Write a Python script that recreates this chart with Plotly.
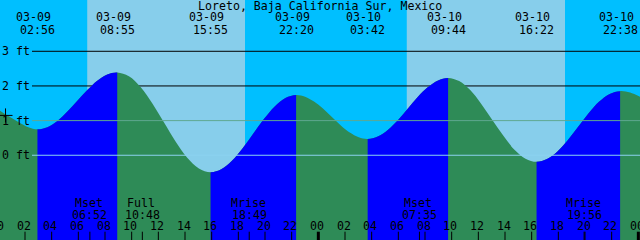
import plotly.graph_objects as go

# ---------------- data ----------------
title = "Loreto, Baja California Sur, Mexico"

# tide curve: hours since 03-09 00:00, height in feet
curve_hours = [0.0, 0.75, 1.5, 2.25, 2.933,
               3.681, 4.429, 5.177, 5.925, 6.673, 7.421, 8.169, 8.917,
               9.792, 10.667, 11.542, 12.417, 13.292, 14.167, 15.042, 15.917,
               16.719, 17.521, 18.323, 19.125, 19.927, 20.729, 21.531, 22.333,
               23.004, 23.675, 24.346, 25.017, 25.688, 26.358, 27.029, 27.70,
               28.454, 29.208, 29.962, 30.717, 31.471, 32.225, 32.979, 33.733,
               34.562, 35.392, 36.221, 37.05, 37.879, 38.708, 39.538, 40.367,
               41.150, 41.933, 42.717, 43.5, 44.283, 45.067, 45.850, 46.633,
               47.383, 48.2]
curve_ft = [1.32, 1.13, 0.96, 0.81, 0.75,
            0.81, 0.99, 1.26, 1.57, 1.88, 2.15, 2.33, 2.39,
            2.28, 1.97, 1.50, 0.95, 0.40, -0.07, -0.38, -0.49,
            -0.405, -0.16, 0.20, 0.625, 1.05, 1.41, 1.655, 1.74,
            1.69, 1.55, 1.35, 1.105, 0.86, 0.655, 0.52, 0.47,
            0.54, 0.73, 1.01, 1.35, 1.69, 1.97, 2.16, 2.23,
            2.14, 1.88, 1.48, 1.02, 0.56, 0.16, -0.10, -0.19,
            -0.11, 0.11, 0.44, 0.83, 1.22, 1.55, 1.77, 1.85,
            1.81, 1.67]

low_hours = [2.933, 15.917, 27.70, 40.367]
high_hours = [8.917, 22.333, 33.733, 46.633]

extreme_hours = [2.933, 8.917, 15.917, 22.333, 27.70, 33.733, 40.367, 46.633]
extreme_dates = ["03-09", "03-09", "03-09", "03-09", "03-10", "03-10", "03-10", "03-10"]
extreme_times = ["02:56", "08:55", "15:55", "22:20", "03:42", "09:44", "16:22", "22:38"]

sunrise_hours = [6.667, 30.633]
sunset_hours = [18.5, 42.5]

moon_hours = [6.867, 10.8, 18.817, 31.583, 43.933]
moon_names = ["Mset", "Full", "Mrise", "Mset", "Mrise"]
moon_times = ["06:52", "10:48", "18:49", "07:35", "19:56"]

tick_hours = [0, 2, 4, 6, 8, 10, 12, 14, 16, 18, 20, 22, 24, 26, 28, 30, 32, 34, 36, 38, 40, 42, 44, 46, 48]
tick_labels = ["00", "02", "04", "06", "08", "10", "12", "14", "16", "18", "20", "22",
               "00", "02", "04", "06", "08", "10", "12", "14", "16", "18", "20", "22", "00"]
midnight_hours = [0, 24, 48]

level_ft = [3, 2, 1, 0]
level_labels = ["3 ft", "2 ft", "1 ft", "0 ft"]

now_hours = [0.54]
now_ft = [1.15]

# ---------------- style ----------------
W, H = 640, 240
X0, X1 = 0.125, 48.125
Y0, Y1 = -2.445, 4.48
BASE = -3.5
NIGHT = "#00BFFF"
DAY = "#87CEEB"
RISE = "#0000FF"
FALL = "#2E8B57"
FONT = dict(family="DejaVu Sans Mono", size=11.6, color="black")


def py(p):
    return 1 - p / H


def hx(h):
    return (h - X0) / (X1 - X0)


fig = go.Figure()

# falling-tide water (whole curve, main subplot)
fig.add_trace(go.Scatter(x=[X0 - 3, X1 + 3], y=[BASE, BASE], mode="lines",
                         line=dict(width=0), hoverinfo="skip", showlegend=False))
fig.add_trace(go.Scatter(x=curve_hours, y=curve_ft, mode="lines",
                         line=dict(width=0, shape="spline", color=FALL),
                         fill="tonexty", fillcolor=FALL, hoverinfo="skip", showlegend=False))

# "now" cross
fig.add_trace(go.Scatter(x=now_hours, y=now_ft, mode="markers",
                         marker=dict(symbol="cross-thin", size=10, line=dict(color="black", width=1)),
                         hoverinfo="skip", showlegend=False))

layout_axes = {}
# rising-tide water: same curve, clipped to sub-plots spanning each rising interval
for i, (tl, th) in enumerate(zip(low_hours, high_hours)):
    k = i + 2
    layout_axes[f"xaxis{k}"] = dict(domain=[hx(tl), hx(th)],
                                    range=[tl, th], visible=False, anchor="y", fixedrange=True)
    fig.add_trace(go.Scatter(x=[X0 - 3, X1 + 3], y=[BASE, BASE], mode="lines",
                             line=dict(width=0), xaxis=f"x{k}", yaxis="y",
                             hoverinfo="skip", showlegend=False))
    fig.add_trace(go.Scatter(x=curve_hours, y=curve_ft, mode="lines",
                             line=dict(width=0, shape="spline", color=RISE),
                             fill="tonexty", fillcolor=RISE, xaxis=f"x{k}", yaxis="y",
                             hoverinfo="skip", showlegend=False))

shapes = []
# daylight bands
for sr, ss in zip(sunrise_hours, sunset_hours):
    shapes.append(dict(type="rect", xref="x", yref="paper", x0=sr, x1=ss, y0=0, y1=1,
                       fillcolor=DAY, line=dict(width=0), layer="below"))
# level lines
for lv in level_ft:
    if lv >= 2:
        shapes.append(dict(type="line", xref="paper", yref="y", x0=32 / W, x1=1, y0=lv, y1=lv,
                           line=dict(color="black", width=1), layer="below"))
    elif lv == 1:
        shapes.append(dict(type="line", xref="paper", yref="y", x0=32 / W, x1=1, y0=lv, y1=lv,
                           line=dict(color="#5FA890", width=1), layer="above"))
    else:
        shapes.append(dict(type="line", xref="paper", yref="y", x0=32 / W, x1=1, y0=lv, y1=lv,
                           line=dict(color="#8CD2F0", width=1), layer="above"))
# hour ticks
for h in tick_hours:
    wdt = 3 if h in midnight_hours else 1
    shapes.append(dict(type="line", xref="paper", yref="paper", x0=hx(h), x1=hx(h), y0=0, y1=8.3 / H,
                       line=dict(color="black", width=wdt), layer="above"))
# moon event ticks
for h in moon_hours:
    shapes.append(dict(type="line", xref="x", yref="paper", x0=h, x1=h, y0=0, y1=8.3 / H,
                       line=dict(color="black", width=1), layer="above"))

ann = []
ann.append(dict(text=title, xref="paper", yref="paper", x=0.5, y=py(5.5),
                xanchor="center", yanchor="middle", showarrow=False, font=FONT))
for h, d, t in zip(extreme_hours, extreme_dates, extreme_times):
    ann.append(dict(text=d, xref="x", yref="paper", x=h, y=py(17), xshift=-4,
                    xanchor="center", yanchor="middle", showarrow=False, font=FONT))
    ann.append(dict(text=t, xref="x", yref="paper", x=h, y=py(29.5),
                    xanchor="center", yanchor="middle", showarrow=False, font=FONT))
for h, n, t in zip(moon_hours, moon_names, moon_times):
    ann.append(dict(text=n, xref="x", yref="paper", x=h, y=py(202.5), xshift=-1,
                    xanchor="center", yanchor="middle", showarrow=False, font=FONT))
    ann.append(dict(text=t, xref="x", yref="paper", x=h, y=py(214.5),
                    xanchor="center", yanchor="middle", showarrow=False, font=FONT))
for h, lab in zip(tick_hours, tick_labels):
    ann.append(dict(text=lab, xref="paper", yref="paper", x=hx(h), y=py(225.8), xshift=-1.5,
                    xanchor="center", yanchor="middle", showarrow=False, font=FONT))
for lv, lab in zip(level_ft, level_labels):
    ann.append(dict(text=lab, xref="paper", yref="y", x=0, y=lv,
                    xanchor="left", yanchor="middle", showarrow=False, font=FONT))

fig.update_layout(
    width=W, height=H,
    margin=dict(l=0, r=0, t=0, b=0, pad=0),
    paper_bgcolor=NIGHT, plot_bgcolor="rgba(0,0,0,0)",
    xaxis=dict(range=[X0, X1], visible=False, fixedrange=True),
    yaxis=dict(range=[Y0, Y1], visible=False, fixedrange=True),
    shapes=shapes, annotations=ann, showlegend=False,
    **layout_axes,
)

fig.write_html("out.html", config={"displayModeBar": False})
